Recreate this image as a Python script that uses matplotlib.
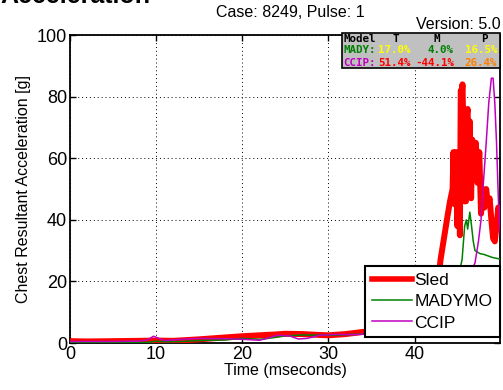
"""Chest resultant acceleration: sled test vs. MADYMO and CCIP simulations."""

import matplotlib

matplotlib.use("Agg")
import matplotlib.pyplot as plt

plt.rcParams["font.family"] = ["Liberation Sans", "DejaVu Sans"]

# Sled (measured) chest resultant acceleration [g] vs time [ms]
sled_t = [0, 2, 5, 8, 10, 12, 15, 18, 20, 22, 24, 25, 27, 29, 30, 32, 34, 36,
          38, 40, 41, 42, 42.5, 43.0, 43.4, 43.8, 44.1, 44.4, 44.5, 44.65, 44.8,
          44.95, 45.1, 45.25, 45.35, 45.45, 45.55, 45.65, 45.8, 45.95, 46.05,
          46.15, 46.25, 46.4, 46.55, 46.7, 46.9, 47.1, 47.3, 47.5, 47.7, 47.9,
          48.1, 48.3, 48.5, 48.7, 48.9, 49.1, 49.3, 49.5, 49.7, 49.9]
sled_g = [0.6, 0.5, 0.6, 0.7, 0.8, 0.7, 1.2, 1.8, 2.2, 2.5, 2.8, 3.0, 2.9, 2.6,
          2.5, 2.9, 3.6, 3.8, 4.2, 5.0, 6.0, 8.0, 14.0, 27, 34, 41, 46, 50, 62,
          45, 62, 38, 60, 35, 82, 80, 84, 70, 46, 46, 74, 76, 48, 72, 47, 66,
          55, 65, 52, 62, 42, 50, 44, 50, 45, 47, 40, 34, 33, 38, 44, 42]

# MADYMO simulation
mady_t = [0, 5, 9, 10, 11, 13, 15, 18, 20, 22, 23, 25, 27, 30, 33, 35, 38, 40,
          42, 43, 44, 44.5, 45, 45.5, 45.8, 46.0, 46.15, 46.4, 46.6, 46.8, 47.0,
          47.3, 47.6, 48.0, 48.5, 49.0, 49.5, 50.0]
mady_g = [0.2, 0.2, 0.2, 0.6, 0.4, 0.5, 0.8, 1.0, 1.5, 1.2, 1.5, 2.3, 2.6, 2.5,
          2.8, 3.0, 3.4, 4.0, 5, 7, 11, 16, 21, 27, 38, 40, 37, 42.5, 38, 33,
          30, 29.5, 29, 28.8, 28.3, 27.8, 27.5, 27.2]

# CCIP simulation
ccip_t = [0, 5, 8, 9, 9.7, 10.5, 11, 13, 15, 18, 20, 22, 23, 24, 25.5, 26.5,
          27.5, 29, 31, 33, 35, 38, 40, 42, 43, 44, 45, 46, 46.5, 47.0, 47.4,
          47.7, 47.9, 48.3, 48.6, 48.9, 49.1, 49.3, 49.5, 49.65, 49.8, 50.0]
ccip_g = [0.5, 0.5, 0.6, 1.0, 2.2, 1.3, 0.8, 1.2, 1.5, 1.4, 1.2, 0.9, 1.6, 2.5,
          2.3, 1.3, 1.5, 2.5, 2.8, 2.7, 3.0, 3.5, 4.0, 5, 7, 10, 15, 20, 23, 26,
          33, 40, 49, 65, 78, 86, 86, 78, 65, 52, 40, 34]

# Rating table shown in the grey box (model, T, M, P)
rating_header = ["Model", "T", "M", "P"]
mady_rating = ["MADY:", "17.0%", "4.0%", "16.5%"]
ccip_rating = ["CCIP:", "51.4%", "-44.1%", "26.4%"]

fig = plt.figure(figsize=(5.03, 3.9), dpi=100)
ax = fig.add_axes([0.139, 0.1205, 0.855, 0.7895])

ax.plot(sled_t, sled_g, color="#ff0000", lw=4.3, label="Sled", zorder=3)
ax.plot(mady_t, mady_g, color="#008000", lw=1.1, label="MADYMO", zorder=4)
ax.plot(ccip_t, ccip_g, color="#c000c0", lw=1.1, label="CCIP", zorder=5)

ax.set_xlim(0, 49.9)
ax.set_ylim(0, 100)
ax.set_xticks([0, 10, 20, 30, 40])
ax.set_yticks([0, 20, 40, 60, 80, 100])
ax.grid(True, color="black", ls=(0, (1, 3)), lw=0.7)
ax.tick_params(direction="in", length=4, width=1, labelsize=13,
               top=True, right=True, pad=2)
for s in ax.spines.values():
    s.set_linewidth(1.3)

ax.set_xlabel("Time (mseconds)", fontsize=11.5, labelpad=0)
ax.set_ylabel("Chest Resultant Acceleration [g]", fontsize=11.5, labelpad=4)

leg = ax.legend(loc="lower right", bbox_to_anchor=(0.999, 0.018), fontsize=12.5,
                handlelength=2.3, handletextpad=0.15, borderpad=0.4,
                labelspacing=0.35, fancybox=False, framealpha=1,
                borderaxespad=0)
leg.get_frame().set_edgecolor("black")
leg.get_frame().set_linewidth(1.5)
leg.get_lines()[0].set_linewidth(4)

# grey rating box in the upper right corner
ax.add_patch(plt.Rectangle((0.633, 0.893), 0.367, 0.114, transform=ax.transAxes,
                           facecolor="#c0c0c0", edgecolor="black", lw=1.2,
                           zorder=6, clip_on=False))
mono = dict(family="DejaVu Sans Mono", fontsize=7.8, fontweight="bold",
            transform=ax.transAxes, zorder=7, va="center", ha="left")
hdr_x = [0.636, 0.750, 0.845, 0.955]
mady_x = [0.636, 0.716, 0.832, 0.918]
ccip_x = [0.636, 0.716, 0.804, 0.918]
for x, s in zip(hdr_x, rating_header):
    ax.text(x, 0.988, s, color="black", **mono)
for x, s, c in zip(mady_x, mady_rating, ["#008000", "#ffff00", "#008000", "#ffff00"]):
    ax.text(x, 0.950, s, color=c, **mono)
for x, s, c in zip(ccip_x, ccip_rating, ["#c000c0", "#ff0000", "#ff0000", "#ff8000"]):
    ax.text(x, 0.911, s, color=c, **mono)

fig.text(0.578, 0.968, "Case: 8249, Pulse: 1", ha="center", va="center",
         fontsize=11.5)
fig.text(0.996, 0.938, "Version: 5.0", ha="right", va="center", fontsize=11.5)
fig.text(0.0, 0.992, "Acceleration", ha="left", va="baseline",
         fontsize=18, fontweight="bold")

fig.savefig("out.png", dpi=100)
